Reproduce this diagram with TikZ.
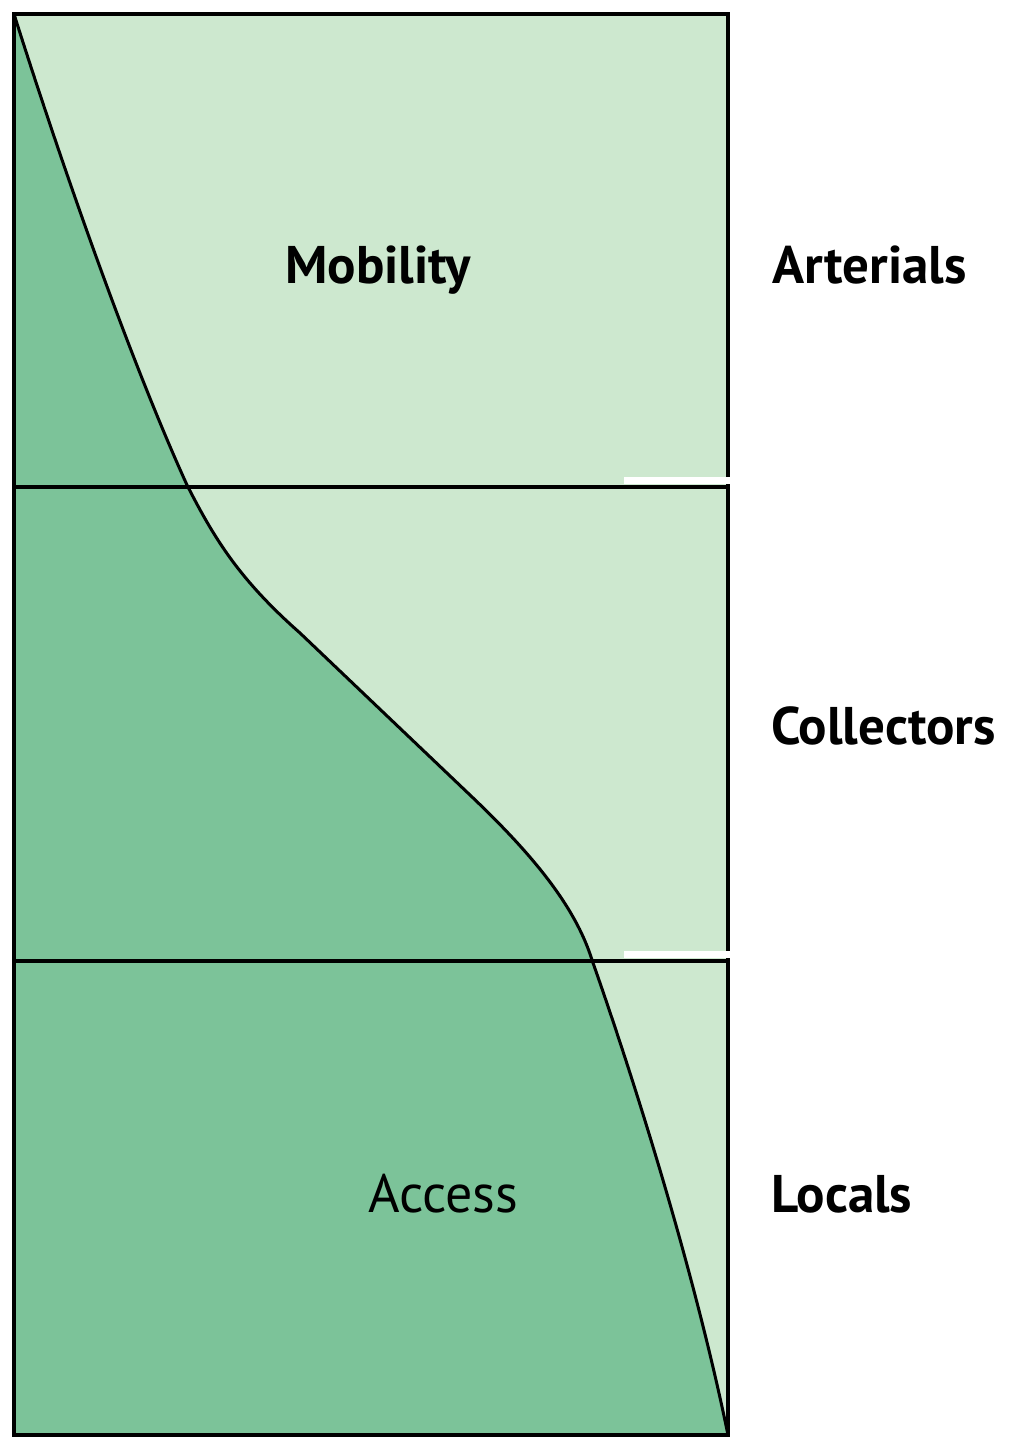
\documentclass[tikz,border=0pt]{standalone}
\usepackage{fontspec}
\setmainfont{PT Sans}
\definecolor{lightg}{HTML}{CDE8CF}
\definecolor{darkg}{HTML}{7CC399}
\begin{document}
\begin{tikzpicture}[x=1pt,y=-1pt,
  lab/.style={anchor=base west,inner sep=0pt,font=\fontsize{53}{60}\selectfont\bfseries},
  labr/.style={anchor=base west,inner sep=0pt,font=\fontsize{54}{60}\selectfont},
  edge/.style={line width=3.4pt,black}]
\useasboundingbox (0,0) rectangle (1009,1440);
\fill[white] (0,0) rectangle (1009,1440);
\fill[lightg] (14,14) rectangle (728,1435);
\def\curvepath{(14,14) .. controls (60,160) and (130,360) .. (187,485)
  .. controls (215,540) and (240,580) .. (300,633)
  -- (470,795)
  .. controls (530,852) and (575,905) .. (592,960)
  .. controls (622,1045) and (690,1250) .. (728,1435)}
\fill[darkg] \curvepath -- (14,1435) -- cycle;
\draw[edge] (14,487) -- (728,487);
\draw[edge] (14,961) -- (728,961);
\draw[edge,line width=3pt] \curvepath;
\draw[edge] (14,14) rectangle (728,1435);
\fill[white] (624,477) rectangle (732,484);
\fill[white] (624,951) rectangle (760,958);
\node[lab] (mob) at (285,283) {Mobility};
\node[labr] (acc) at (368,1212) {Access};
\node[lab] (art) at (772,283) {Arterials};
\node[lab] (col) at (771,744) {Collectors};
\node[lab] (loc) at (771,1212) {Locals};
\end{tikzpicture}
\end{document}
